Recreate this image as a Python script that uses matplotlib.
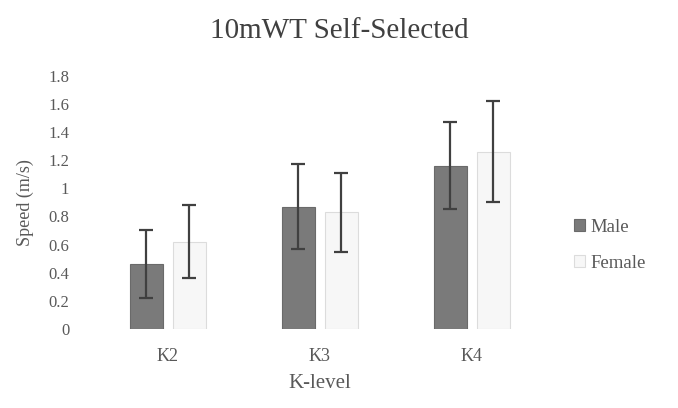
import matplotlib
matplotlib.use("Agg")
import matplotlib.pyplot as plt
import numpy as np

# data
levels = ["K2", "K3", "K4"]
male_mean = [0.46, 0.87, 1.16]
male_sd = [0.24, 0.30, 0.31]
female_mean = [0.62, 0.83, 1.26]
female_sd = [0.26, 0.28, 0.36]

plt.rcParams['font.family'] = ['Liberation Serif', 'DejaVu Serif']
txt = '#595959'

fig = plt.figure(figsize=(6.78, 4.08), dpi=100)
ax = fig.add_axes([0.135, 0.194, 0.673, 0.62])

x = np.arange(len(levels))
w = 0.217
off = (w + 0.066) / 2
err_kw = dict(ecolor='#404040', elinewidth=1.6, capsize=5, capthick=1.6)

ax.bar(x - off, male_mean, w, yerr=male_sd, color='#7a7a7a', edgecolor='#6a6a6a',
       linewidth=0.8, label='Male', error_kw=err_kw)
ax.bar(x + off, female_mean, w, yerr=female_sd, color='#f7f7f7', edgecolor='#dcdcdc',
       linewidth=0.8, label='Female', error_kw=err_kw)

ax.set_xlim(-0.5, 2.5)
ax.set_ylim(0, 1.8)
ax.set_yticks(np.arange(0, 1.81, 0.2))
ax.set_yticklabels(['0', '0.2', '0.4', '0.6', '0.8', '1', '1.2', '1.4', '1.6', '1.8'])
ax.set_xticks(x)
ax.set_xticklabels(levels)
ax.tick_params(axis='y', length=0, labelsize=12, colors=txt, pad=16)
ax.tick_params(axis='x', length=0, labelsize=13, colors=txt, pad=14)
for s in ax.spines.values():
    s.set_visible(False)

ax.set_ylabel('Speed (m/s)', fontsize=13, color=txt, labelpad=10)
ax.set_xlabel('K-level', fontsize=15, color=txt, labelpad=6)
fig.suptitle('10mWT Self-Selected', fontsize=21, color='#404040', y=0.955)

leg = ax.legend(loc='center left', bbox_to_anchor=(1.02, 0.33), frameon=False,
                fontsize=13.5, labelspacing=1.0, handlelength=0.6, handleheight=0.6,
                handletextpad=0.3)
for t in leg.get_texts():
    t.set_color(txt)

plt.savefig('out.png', dpi=100)
